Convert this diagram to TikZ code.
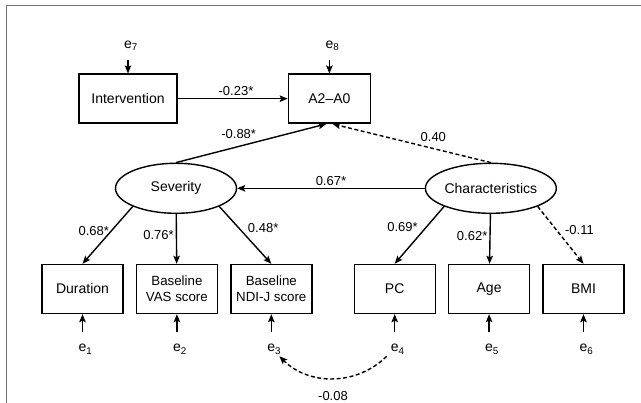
\documentclass[tikz,border=0pt]{standalone}
\usepackage{fontspec}
\setmainfont{Liberation Sans}
\usepackage{tikz}
\usetikzlibrary{shapes,arrows.meta,positioning}
\tikzset{
  arrow/.style={-{Stealth[length=8pt,width=6.5pt,inset=1.5pt]},line width=1.4pt},
  dasharrow/.style={arrow,dash pattern=on 4pt off 2.5pt},
}

\begin{document}
\begin{tikzpicture}[x=1pt,y=1pt,node distance=12pt and 12pt,
  obs/.style={rectangle,draw,line width=1.4pt,minimum width=81pt,
    minimum height=49pt,inner sep=0pt,align=center,font=\fontsize{14}{16}\selectfont},
  two/.style={font=\fontsize{13.3}{16}\selectfont},
  latent/.style={ellipse,draw,line width=1.4pt,minimum width=121pt,
    minimum height=50pt,inner sep=0pt,font=\fontsize{14}{16}\selectfont},
  err/.style={inner xsep=4pt,inner ysep=12pt,text height=7.5pt,text depth=0pt,
    font=\fontsize{14}{16}\selectfont},
  lbl/.style={inner sep=2pt,font=\fontsize{13}{15}\selectfont}]

  \useasboundingbox (0,0) rectangle (641,403);
  \draw[line width=1.5pt,color=black!55] (6.3,0) -- (6.3,397.5) -- (641,397.5);

  \node[obs,minimum width=98pt] (I) at (128,304.3) {Intervention};
  \node[obs,minimum width=82pt,right=110pt of I] (A) {A2--A0};
  \node[latent] (SEV) at (176,214.7) {Severity};
  \node[latent,right=187.5pt of SEV] (CHR) {Characteristics};

  \node[obs] (DUR) at (82.5,114) {Duration};
  \node[obs,two,right=of DUR] (VAS) {Baseline\\VAS score};
  \node[obs,two,right=of VAS] (NDI) {Baseline\\NDI-J score};
  \node[obs,right=41pt of NDI] (PC) {PC};
  \node[obs,right=of PC] (AGE) {Age};
  \node[obs,right=of AGE] (BMI) {BMI};

  \node[err,above=13pt of I] (E7) {e\rlap{\textsubscript{7}}};
  \node[err,above=13pt of A] (E8) {e\rlap{\textsubscript{8}}};
  \node[err,below=18pt of DUR] (E1) {e\rlap{\textsubscript{1}}};
  \node[err,below=18pt of VAS] (E2) {e\rlap{\textsubscript{2}}};
  \node[err,below=18pt of NDI] (E3) {e\rlap{\textsubscript{3}}};
  \node[err,below=18pt of PC] (E4) {e\rlap{\textsubscript{4}}};
  \node[err,below=18pt of AGE] (E5) {e\rlap{\textsubscript{5}}};
  \node[err,below=18pt of BMI] (E6) {e\rlap{\textsubscript{6}}};

  \draw[arrow] (E7) -- (I);
  \draw[arrow] (E8) -- (A);
  \draw[arrow] (I) -- node[lbl,above,pos=0.53]{-0.23*} (A);
  \draw[arrow] (SEV.north) -- node[lbl,above left,pos=0.55]{-0.88*} ([xshift=-3pt]A.south);
  \draw[dasharrow] (CHR.north) -- node[lbl,above right,pos=0.46]{0.40} ([xshift=3pt]A.south);
  \draw[arrow] (CHR) -- node[lbl,above]{0.67*} (SEV);

  \draw[arrow] (SEV.south west) -- node[lbl,left,pos=0.42]{0.68*} (DUR.north);
  \draw[arrow] (SEV) -- node[lbl,left,pos=0.43]{0.76*} (VAS);
  \draw[arrow] (SEV.south east) -- node[lbl,above right,pos=0.5]{0.48*} (NDI.north);
  \draw[arrow] (CHR.south west) -- node[lbl,above left,pos=0.48]{0.69*} (PC.north);
  \draw[arrow] (CHR) -- node[lbl,left,pos=0.44]{0.62*} (AGE);
  \draw[dasharrow] (CHR.south east) -- node[lbl,above right,pos=0.54]{-0.11} (BMI.north);

  \draw[arrow] (E1) -- (DUR);
  \draw[arrow] (E2) -- (VAS);
  \draw[arrow] (E3) -- (NDI);
  \draw[arrow] (E4) -- (PC);
  \draw[arrow] (E5) -- (AGE);
  \draw[arrow] (E6) -- (BMI);
  \draw[dasharrow] (E4) to[out=-135,in=-45] node[lbl,below=10pt]{-0.08} (E3);
\end{tikzpicture}
\end{document}
